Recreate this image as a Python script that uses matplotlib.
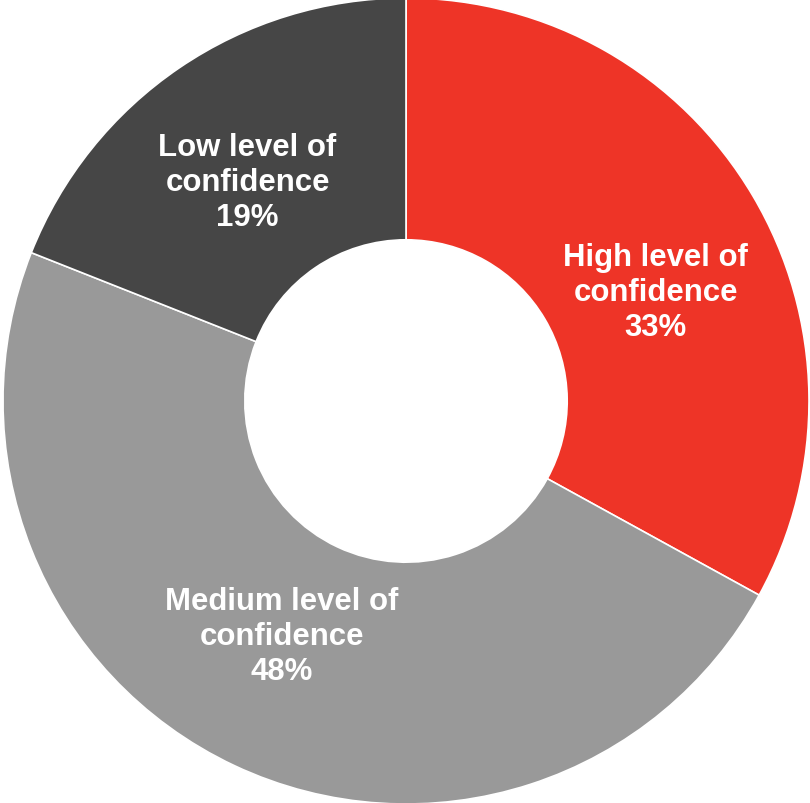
import matplotlib
matplotlib.use("Agg")
import matplotlib.pyplot as plt

# Share of respondents by confidence level
categories = ["High level of\nconfidence", "Medium level of\nconfidence", "Low level of\nconfidence"]
shares = [33, 48, 19]
colors = ["#EE3427", "#999999", "#464646"]
label_pos = [(0.620, 0.270), (-0.308, -0.583), (-0.393, 0.543)]

plt.rcParams["font.family"] = ["Liberation Sans", "DejaVu Sans"]

fig = plt.figure(figsize=(8.10, 8.04), dpi=100)
ax = fig.add_axes([0, 0, 1, 1])

ax.pie(shares, colors=colors, startangle=90, counterclock=False, radius=1.0,
       wedgeprops=dict(width=0.6, edgecolor="white", linewidth=1.2))

for cat, val, (x, y) in zip(categories, shares, label_pos):
    ax.text(x, y, f"{cat}\n{val}%", ha="center", va="center", color="white",
            fontsize=22.4, fontweight="bold", linespacing=1.23)

ax.set_xlim(-406 / 403, 404 / 403)
ax.set_ylim(-402 / 403, 402 / 403)
ax.set_aspect("auto")
ax.axis("off")

fig.savefig("out.png", dpi=100, facecolor="white")
